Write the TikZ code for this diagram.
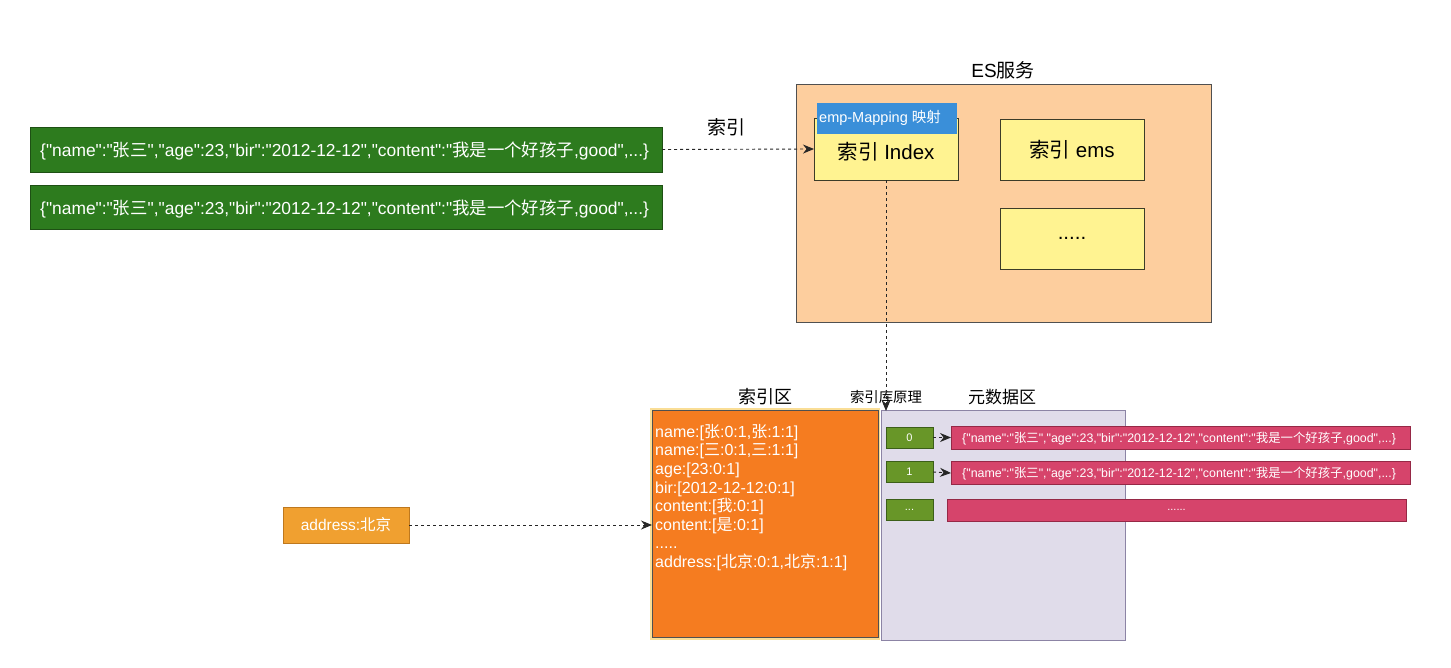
\documentclass[tikz,border=0pt]{standalone}
\usepackage{fontspec}
\setmainfont{Liberation Sans}[Ligatures=TeXOff]
\newfontfamily\zhfont{Noto Sans CJK SC}
\newcommand\zh[1]{{\zhfont #1}}
\usetikzlibrary{arrows.meta}
\definecolor{docgreen}{RGB}{45,123,30}
\definecolor{docgreenedge}{RGB}{30,80,20}
\definecolor{peach}{RGB}{253,206,158}
\definecolor{esedge}{RGB}{80,80,80}
\definecolor{ylw}{RGB}{255,243,145}
\definecolor{ylwedge}{RGB}{60,60,40}
\definecolor{mapblue}{RGB}{58,143,217}
\definecolor{orng}{RGB}{245,124,32}
\definecolor{orngouter}{RGB}{250,222,150}
\definecolor{lav}{RGB}{224,220,234}
\definecolor{lavedge}{RGB}{140,132,165}
\definecolor{smgreen}{RGB}{104,150,40}
\definecolor{smgreenedge}{RGB}{60,95,25}
\definecolor{pnk}{RGB}{214,68,107}
\definecolor{pnkedge}{RGB}{150,40,70}
\definecolor{addr}{RGB}{240,160,48}
\definecolor{addredge}{RGB}{190,120,30}
\newcommand\doc{\{"name":"\zh{张三}","age":23,"bir":"2012-12-12","content":"\zh{我是一个好孩子},good",...\}}
\begin{document}
\begin{tikzpicture}[x=1pt,y=-1pt,
  box/.style={inner sep=0pt, outer sep=0pt, line width=0.9pt},
  docbox/.style={box, fill=docgreen, draw=docgreenedge},
  doctext/.style={inner sep=0pt, anchor=west, text=white, font=\fontsize{17.4}{17.4}\selectfont},
  ylwbox/.style={box, fill=ylw, draw=ylwedge, font=\fontsize{20.5}{20.5}\selectfont},
  smbox/.style={box, fill=smgreen, draw=smgreenedge, text=white, font=\fontsize{11}{11}\selectfont, minimum width=47pt, minimum height=21pt},
  pnkbox/.style={box, fill=pnk, draw=pnkedge, text=white, font=\fontsize{11}{11}\selectfont, minimum height=23pt},
  pnktext/.style={inner sep=0pt, anchor=west, text=white, font=\fontsize{12.4}{12.4}\selectfont},
  lbl/.style={inner sep=0pt, font=\fontsize{18}{18}\selectfont},
  dasharrow/.style={dash pattern=on 3pt off 3pt, line width=0.9pt, draw=black!85, -{Stealth[length=11pt,width=9pt]}},
]
\useasboundingbox (0,0) rectangle (1451,667);
\fill[white] (0,0) rectangle (1451,667);

% documents
\node[docbox, minimum width=632pt, minimum height=45pt] (g1) at (346,149.5) {};
\node[doctext] (g1t) at (40,151) {\doc};
\node[docbox, minimum width=632pt, minimum height=44pt] (g2) at (346,207) {};
\node[doctext] (g2t) at (40,209) {\doc};
\node[lbl, font=\fontsize{19}{19}\selectfont] (lblidx) at (726,127) {\zh{索引}};

% ES service
\node[box, fill=peach, draw=esedge, minimum width=415pt, minimum height=238pt] (es) at (1003.5,203) {};
\node[lbl, font=\fontsize{19}{19}\selectfont] (estitle) at (1003,70) {ES\zh{服务}};
\node[ylwbox, minimum width=144pt, minimum height=62pt] (idx) at (886,149) {};
\node[inner sep=0pt, font=\fontsize{20.5}{20.5}\selectfont] (idxtxt) at (886,152) {\zh{索引} Index};
\node[box, fill=mapblue, draw=mapblue, minimum width=139pt, minimum height=30pt] (map) at (886.5,118) {};
\node[inner sep=0pt, text=white, font=\fontsize{14.5}{14.5}\selectfont, anchor=west] (maptxt) at (819,118) {emp-Mapping \zh{映射}};
\node[ylwbox, minimum width=144pt, minimum height=61pt] (ems) at (1072,149.5) {\zh{索引} ems};
\node[ylwbox, minimum width=144pt, minimum height=61pt] (more) at (1072,238.5) {.....};

% lower area
\node[box, fill=lav, draw=lavedge, minimum width=244pt, minimum height=230pt] (meta) at (1003,525) {};
\node[box, fill=orngouter, minimum width=230pt, minimum height=232pt] (orout) at (765,524) {};
\node[box, fill=orng, draw=esedge, line width=0.6pt, minimum width=226pt, minimum height=227pt] (idxarea) at (765,524) {};
\node[inner sep=0pt, anchor=north west, align=left, text=white, font=\fontsize{16}{18.6}\selectfont] (terms) at (655,424) {name:[\zh{张}:0:1,\zh{张}:1:1]\\name:[\zh{三}:0:1,\zh{三}:1:1]\\age:[23:0:1]\\bir:[2012-12-12:0:1]\\content:[\zh{我}:0:1]\\content:[\zh{是}:0:1]\\.....\\address:[\zh{北京}:0:1,\zh{北京}:1:1]};

\node[lbl, font=\fontsize{18}{18}\selectfont] (t1) at (765,397) {\zh{索引区}};
\node[lbl, font=\fontsize{14.4}{14.4}\selectfont] (t2) at (886,397) {\zh{索引库原理}};
\node[lbl, font=\fontsize{17}{17}\selectfont] (t3) at (1002,397) {\zh{元数据区}};

\node[smbox] (n0) at (909.5,437.5) {0};
\node[smbox] (n1) at (909.5,472) {1};
\node[smbox] (n2) at (909.5,510) {...};
\node[pnkbox, minimum width=459pt] (p0) at (1180.5,437.5) {};
\node[pnktext] (p0t) at (962,438.5) {\doc};
\node[pnkbox, minimum width=459pt] (p1) at (1180.5,473) {};
\node[pnktext] (p1t) at (962,474) {\doc};
\node[pnkbox, minimum width=459pt, minimum height=22pt] (p2) at (1176.5,510) {......};

\node[box, fill=addr, draw=addredge, minimum width=126pt, minimum height=36pt, text=white, font=\fontsize{15.5}{15.5}\selectfont] (ad) at (346,525) {address:\zh{北京}};

\coordinate (idxbot) at (886,180);
\coordinate (metatop) at (886,411);
\coordinate (areain) at (652,525);

% connectors
\draw[dasharrow] (g1.east) -- (idx.west);
\draw[dasharrow] (idxbot) -- (metatop);
\draw[dasharrow] (ad.east) -- (areain);
\draw[dasharrow] (n0.east) -- (p0.west);
\draw[dasharrow] (n1.east) -- (p1.west);
\end{tikzpicture}
\end{document}
